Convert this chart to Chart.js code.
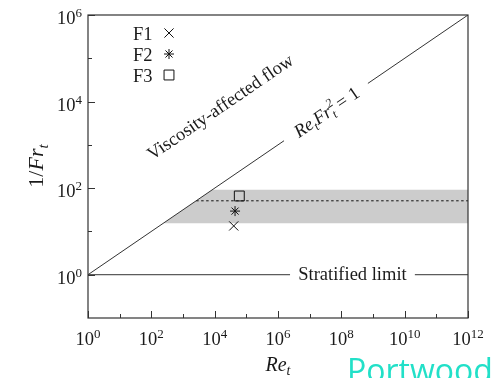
<!DOCTYPE html>
<html><head><meta charset="utf-8">
<script src="https://cdn.jsdelivr.net/npm/chart.js@4.4.1/dist/chart.umd.min.js"></script>
<style>html,body{margin:0;padding:0;background:#fff;overflow:hidden}</style>
</head><body>
<canvas id="c" width="491" height="378"></canvas>
<script>
// ---- data ----
const seriesNames = ['F1', 'F2', 'F3'];
const seriesStyles = ['crossRot', 'star', 'rect'];
const reT = [4.0e4, 4.4e4, 6.0e4];
const invFrT = [13.4, 29.5, 65.9];
const xMajorExp = [0, 2, 4, 6, 8, 10, 12];
const xMinorExp = [1, 3, 5, 7, 9, 11];
const yMajorExp = [0, 2, 4, 6];
const yMinorExp = [1, 3, 5];
const xRange = [1, 1e12];
const yRange = [0.1, 1e6];
const bandX = [240, 8400, 1e12];
const bandY = [15.5, 91.5, 91.5];
const bandBottom = 15.5;
const meanLineX = [2600, 1e12];
const meanLineY = [51, 51];
const diagLowX = [1, 1.55e6];
const diagLowY = [1, 1245];
const diagHighX = [6.9e8, 1e12];
const diagHighY = [26300, 1e6];
const stratLeftX = [1, 2.4e6];
const stratRightX = [2.1e10, 1e12];
const stratY = 1;
const viscLabelAt = {x: 1.9e4, y: 5800};

const SERIF = "'Liberation Serif','DejaVu Serif',serif";
const INK = '#1a1a1a';
const pts = (xs, ys) => xs.map((x, i) => ({x, y: ys[i]}));

const lineDs = (data, extra) => Object.assign({
  type: 'scatter', data, showLine: true, borderColor: '#333', borderWidth: 1,
  pointRadius: 0, fill: false, order: 5
}, extra || {});

const datasets = [
  lineDs(pts(bandX, bandY), {borderWidth: 0, borderColor: 'rgba(0,0,0,0)',
    backgroundColor: '#cccccc', fill: {value: bandBottom}, order: 10}),
  lineDs(pts(meanLineX, meanLineY), {borderDash: [2.5, 2.5], borderColor: '#111', order: 6}),
  lineDs(pts(diagLowX, diagLowY)),
  lineDs(pts(diagHighX, diagHighY)),
  lineDs(pts(stratLeftX, [stratY, stratY])),
  lineDs(pts(stratRightX, [stratY, stratY])),
];
const ptRadius = [6.5, 5, 7];
seriesNames.forEach((n, i) => {
  datasets.push({
    type: 'scatter', label: n, data: [{x: reT[i], y: invFrT[i]}],
    pointStyle: seriesStyles[i], pointRadius: ptRadius[i], pointHoverRadius: ptRadius[i],
    borderColor: '#111', backgroundColor: 'rgba(0,0,0,0)', pointBorderWidth: 1, order: 1
  });
});

function rich(ctx, parts, x, y, angle, align) {
  ctx.save();
  ctx.translate(x, y);
  ctx.rotate(angle);
  ctx.textBaseline = 'alphabetic';
  ctx.textAlign = 'left';
  let w = 0;
  const widths = parts.map(p => {
    ctx.font = p.f;
    let pw = p.stack ? Math.max(ctx.measureText(p.sup).width, ctx.measureText(p.sub).width)
                     : ctx.measureText(p.t).width;
    pw += (p.gap || 0);
    w += pw;
    return pw;
  });
  let cx = align === 'right' ? -w : align === 'left' ? 0 : -w / 2;
  parts.forEach((p, i) => {
    ctx.font = p.f;
    ctx.fillStyle = p.c || INK;
    if (p.stack) {
      ctx.fillText(p.sup, cx, p.supdy);
      ctx.fillText(p.sub, cx, p.subdy);
    } else {
      ctx.fillText(p.t, cx, p.dy || 0);
    }
    cx += widths[i];
  });
  ctx.restore();
}

function drawMarker(ctx, style, x, y, r) {
  ctx.beginPath();
  if (style === 'crossRot' || style === 'star') {
    const d = r * Math.SQRT1_2;
    ctx.moveTo(x - d, y - d); ctx.lineTo(x + d, y + d);
    ctx.moveTo(x - d, y + d); ctx.lineTo(x + d, y - d);
  }
  if (style === 'star') {
    ctx.moveTo(x, y - r); ctx.lineTo(x, y + r);
    ctx.moveTo(x - r, y); ctx.lineTo(x + r, y);
  }
  if (style === 'rect') {
    const s = r * Math.SQRT1_2;
    ctx.rect(x - s, y - s, 2 * s, 2 * s);
  }
  ctx.stroke();
}

const decor = {
  id: 'decor',
  afterDatasetsDraw(chart) {
    const ctx = chart.ctx;
    const xs = chart.scales.x, ys = chart.scales.y;
    const a = chart.chartArea;
    ctx.save();
    // frame
    ctx.strokeStyle = '#333';
    ctx.lineWidth = 1.2;
    ctx.strokeRect(a.left, a.top, a.right - a.left, a.bottom - a.top);
    // ticks (inward)
    ctx.lineWidth = 1;
    ctx.beginPath();
    xMajorExp.forEach(e => { const p = Math.round(xs.getPixelForValue(Math.pow(10, e))) + 0.5; ctx.moveTo(p, a.bottom); ctx.lineTo(p, a.bottom - 7); });
    xMinorExp.forEach(e => { const p = Math.round(xs.getPixelForValue(Math.pow(10, e))) + 0.5; ctx.moveTo(p, a.bottom); ctx.lineTo(p, a.bottom - 4); });
    yMajorExp.forEach(e => { const p = Math.round(ys.getPixelForValue(Math.pow(10, e))) + 0.5; ctx.moveTo(a.left, p); ctx.lineTo(a.left + 7, p); });
    yMinorExp.forEach(e => { const p = Math.round(ys.getPixelForValue(Math.pow(10, e))) + 0.5; ctx.moveTo(a.left, p); ctx.lineTo(a.left + 4, p); });
    ctx.stroke();
    // tick labels
    const base = '18.5px ' + SERIF, sup = '13px ' + SERIF;
    xMajorExp.forEach(e => {
      const p = xs.getPixelForValue(Math.pow(10, e));
      rich(ctx, [{t: '10', f: base}, {t: String(e), f: sup, dy: -7}], p, a.bottom + 27, 0, 'center');
    });
    yMajorExp.forEach(e => {
      const p = ys.getPixelForValue(Math.pow(10, e));
      rich(ctx, [{t: '10', f: base}, {t: String(e), f: sup, dy: -7}], a.left - 6, p + 9, 0, 'right');
    });
    // axis titles
    rich(ctx, [{t: 'Re', f: 'italic 20px ' + SERIF}, {t: 't', f: 'italic 14px ' + SERIF, dy: 4}],
      (a.left + a.right) / 2, 371, 0, 'center');
    rich(ctx, [{t: '1/', f: '22px ' + SERIF}, {t: 'Fr', f: 'italic 22px ' + SERIF}, {t: 't', f: 'italic 15px ' + SERIF, dy: 5}],
      43, 166, -Math.PI / 2, 'center');
    // slope of Re Fr^2 = 1 line
    const x0 = xs.getPixelForValue(diagLowX[0]), y0 = ys.getPixelForValue(diagLowY[0]);
    const x1 = xs.getPixelForValue(diagHighX[1]), y1 = ys.getPixelForValue(diagHighY[1]);
    const ang = Math.atan2(y1 - y0, x1 - x0);
    const gx = (xs.getPixelForValue(diagLowX[1]) + xs.getPixelForValue(diagHighX[0])) / 2;
    const gy = (ys.getPixelForValue(diagLowY[1]) + ys.getPixelForValue(diagHighY[0])) / 2;
    const it = 'italic 18.5px ' + SERIF, its = 'italic 12.5px ' + SERIF;
    rich(ctx, [
      {t: 'Re', f: it}, {t: 't', f: its, dy: 4}, {t: 'Fr', f: it},
      {stack: true, sup: '2', sub: 't', f: its, supdy: -8, subdy: 4, gap: 3},
      {t: '= 1', f: '18.5px ' + SERIF}
    ], gx + 4, gy + 5, ang, 'center');
    rich(ctx, [{t: 'Viscosity-affected flow', f: '18.5px ' + SERIF}],
      xs.getPixelForValue(viscLabelAt.x), ys.getPixelForValue(viscLabelAt.y), ang, 'center');
    // stratified limit label
    const sx = (xs.getPixelForValue(stratLeftX[1]) + xs.getPixelForValue(stratRightX[0])) / 2;
    rich(ctx, [{t: 'Stratified limit', f: '18.5px ' + SERIF}], sx, ys.getPixelForValue(stratY) + 5.5, 0, 'center');
    // legend
    ctx.strokeStyle = '#111';
    ctx.lineWidth = 1;
    seriesNames.forEach((n, i) => {
      const ly = 33 + i * 21;
      rich(ctx, [{t: n, f: '18.5px ' + SERIF}], 133, ly + 6.5, 0, 'left');
      drawMarker(ctx, seriesStyles[i], 169, ly, ptRadius[i]);
    });
    // watermark
    ctx.font = "32px 'Open Sans', sans-serif";
    ctx.fillStyle = '#22e0c8';
    ctx.textAlign = 'left';
    ctx.textBaseline = 'alphabetic';
    ctx.fillText('Portwood', 347, 382);
    ctx.restore();
  }
};

new Chart(document.getElementById('c'), {
  type: 'scatter',
  data: {datasets},
  options: {
    responsive: false, animation: false, devicePixelRatio: 1,
    layout: {padding: {left: 88, right: 23, top: 15, bottom: 60}},
    plugins: {legend: {display: false}, tooltip: {enabled: false}},
    events: [],
    scales: {
      x: {type: 'logarithmic', min: xRange[0], max: xRange[1], display: false},
      y: {type: 'logarithmic', min: yRange[0], max: yRange[1], display: false}
    }
  },
  plugins: [decor]
});
</script>
</body></html>
